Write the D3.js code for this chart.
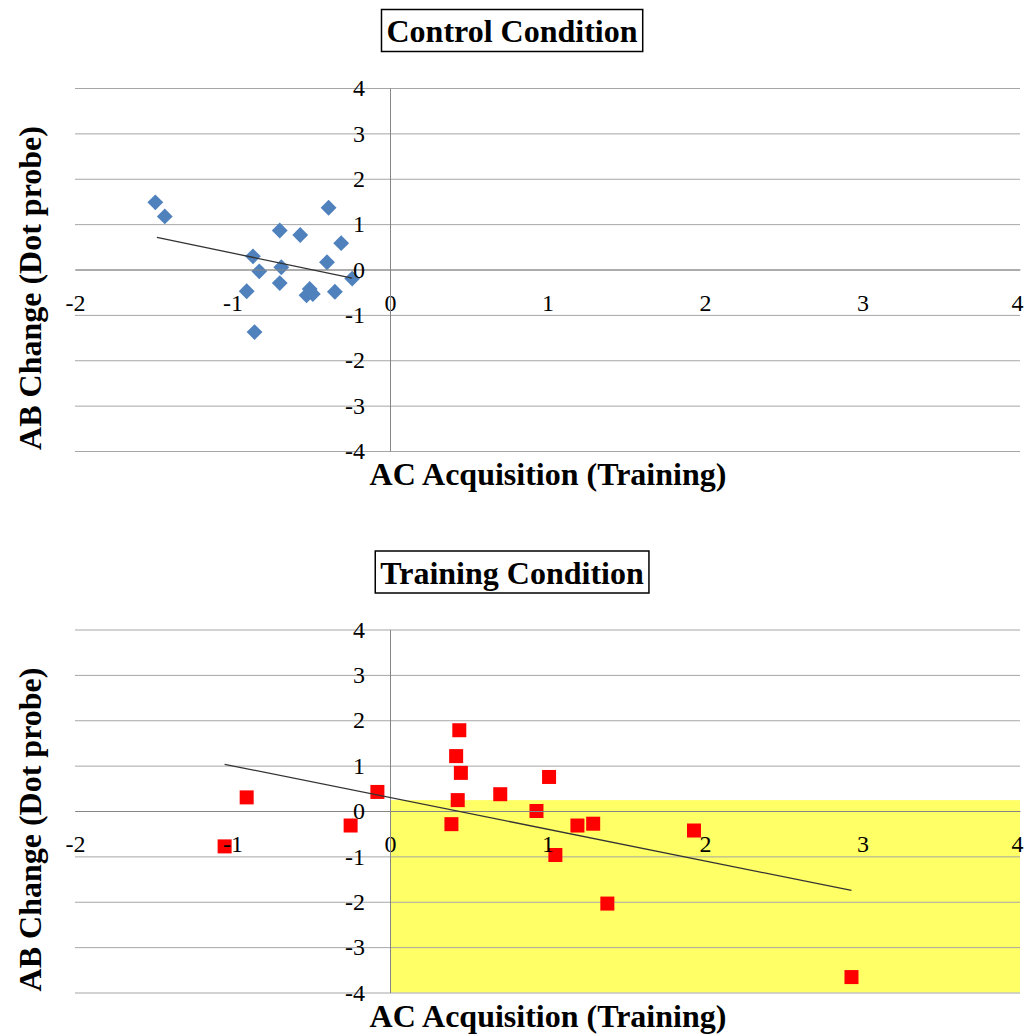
<!DOCTYPE html>
<html>
<head>
<meta charset="utf-8">
<script src="https://cdn.jsdelivr.net/npm/d3@7"></script>
<style>
  body { margin: 0; background: #fff; }
  svg { display: block; font-family: "Liberation Serif", "Times New Roman", serif; }
</style>
</head>
<body>
<div id="chart"></div>
<script>
// ---- data ----
var xTicks = [-2, -1, 0, 1, 2, 3, 4];
var yTicks = [-4, -3, -2, -1, 0, 1, 2, 3, 4];

// control condition (blue diamonds)
var controlX = [-1.49, -1.43, -0.70, -0.57, -0.39, -0.31, -0.87, -0.83, -0.69, -0.40, -0.24, -0.91, -0.70, -0.51, -0.53, -0.49, -0.35, -0.86];
var controlY = [1.48, 1.17, 0.86, 0.76, 1.36, 0.58, 0.29, -0.04, 0.05, 0.16, -0.20, -0.48, -0.30, -0.43, -0.57, -0.54, -0.49, -1.38];
var controlTrendX = [-1.48, -0.24];
var controlTrendY = [0.71, -0.19];

// training condition (red squares)
var trainingX = [0.44, 0.42, 0.45, 0.43, 0.39, -0.08, -0.25, -0.91, -1.05, 0.70, 1.01, 0.93, 1.19, 1.29, 1.05, 1.93, 1.38, 2.93];
var trainingY = [1.78, 1.21, 0.84, 0.24, -0.29, 0.42, -0.32, 0.30, -0.78, 0.37, 0.75, 0.00, -0.32, -0.28, -0.97, -0.43, -2.04, -3.66];
var trainingTrendX = [-1.05, 2.93];
var trainingTrendY = [1.03, -1.75];
// highlighted region in the training panel
var regionX = [0, 4];
var regionY = [-4, 0.24];

var W = 1025, H = 1034;
var svg = d3.select("#chart").append("svg")
    .attr("width", W)
    .attr("height", H);

function zip(xs, ys) {
    return xs.map(function (v, i) { return [v, ys[i]]; });
}

function drawPanel(top, opts) {
    var g = svg.append("g").attr("transform", "translate(0," + top + ")");

    var x = d3.scaleLinear().domain([-2, 4]).range([75, 1020]);
    var y = d3.scaleLinear().domain([-4, 4]).range([451, 88]);
    var fmt = function (d) { return String(d); };   // plain hyphen, no decimals

    // yellow box
    if (opts.region) {
        g.append("rect")
            .attr("x", x(opts.region[0][0]))
            .attr("y", y(opts.region[1][1]))
            .attr("width", x(opts.region[0][1]) - x(opts.region[0][0]))
            .attr("height", y(opts.region[1][0]) - y(opts.region[1][1]))
            .attr("fill", "#ffff66");
    }

    // horizontal gridlines
    g.append("g")
        .attr("transform", "translate(" + x(-2) + ",0)")
        .call(d3.axisRight(y).tickValues(yTicks).tickSize(x(4) - x(-2)).tickFormat(""))
        .call(function (s) {
            s.select(".domain").remove();
            s.selectAll(".tick line").attr("stroke", "#a6a6a6");
        });

    var pts = zip(opts.xs, opts.ys);
    if (opts.marker == "diamond") {
        g.append("g").selectAll("path")
            .data(pts)
            .enter()
            .append("path")
            .attr("transform", function (d) { return "translate(" + x(d[0]) + "," + y(d[1]) + ") rotate(45)"; })
            .attr("d", "M-5.6,-5.6H5.6V5.6H-5.6Z")
            .attr("fill", "#4f81bd");
    } else {
        g.append("g").selectAll("rect")
            .data(pts)
            .enter()
            .append("rect")
            .attr("x", function (d) { return x(d[0]) - 7; })
            .attr("y", function (d) { return y(d[1]) - 7; })
            .attr("width", 14)
            .attr("height", 14)
            .attr("fill", "#ff0000");
    }

    // x axis crossing at y = 0
    g.append("g")
        .attr("transform", "translate(0," + y(0) + ")")
        .call(d3.axisBottom(x).tickValues(xTicks).tickSize(0).tickPadding(24).tickFormat(fmt))
        .call(function (s) {
            s.select(".domain").attr("stroke", "#868686");
            s.selectAll("text").attr("font-size", 24).attr("fill", "#000")
                .attr("font-family", "Liberation Serif");
            s.selectAll("text").filter(function (d) { return d == 4; }).attr("dx", -3);
        });

    // y axis crossing at x = 0
    g.append("g")
        .attr("transform", "translate(" + x(0) + ",0)")
        .call(d3.axisLeft(y).tickValues(yTicks).tickSize(0).tickPadding(25).tickFormat(fmt))
        .call(function (s) {
            s.select(".domain").attr("stroke", "#868686");
            s.selectAll("text").attr("font-size", 24).attr("fill", "#000")
                .attr("font-family", "Liberation Serif");
        });

    // trend line
    var line = d3.line()
        .x(function (d) { return x(d[0]); })
        .y(function (d) { return y(d[1]); });
    g.append("path")
        .datum(zip(opts.trendX, opts.trendY))
        .attr("d", line)
        .attr("fill", "none")
        .attr("stroke", "#333")
        .attr("stroke-width", 1.3);

    // title with box
    var boxRect = g.append("rect");
    var title = g.append("text")
        .attr("x", 512)
        .attr("y", 42)
        .attr("text-anchor", "middle")
        .attr("font-size", 32)
        .attr("font-weight", "bold")
        .text(opts.title);
    var bb = title.node().getBBox();
    boxRect
        .attr("x", bb.x - 5)
        .attr("y", 9.5)
        .attr("width", bb.width + 10)
        .attr("height", 42)
        .attr("fill", "#fff")
        .attr("stroke", "#000")
        .attr("stroke-width", 1.5);

    // axis titles
    g.append("text")
        .attr("x", 548)
        .attr("y", 485)
        .attr("text-anchor", "middle")
        .attr("font-size", 32)
        .attr("font-weight", "bold")
        .text("AC Acquisition (Training)");

    g.append("text")
        .attr("transform", "translate(41,288) rotate(-90)")
        .attr("text-anchor", "middle")
        .attr("font-size", 32)
        .attr("font-weight", "bold")
        .text("AB Change (Dot probe)");
}

drawPanel(0, {
    title: "Control Condition",
    xs: controlX, ys: controlY,
    trendX: controlTrendX, trendY: controlTrendY,
    marker: "diamond"
});

drawPanel(541.5, {
    title: "Training Condition",
    xs: trainingX, ys: trainingY,
    trendX: trainingTrendX, trendY: trainingTrendY,
    marker: "square",
    region: [regionX, regionY]
});
</script>
</body>
</html>
